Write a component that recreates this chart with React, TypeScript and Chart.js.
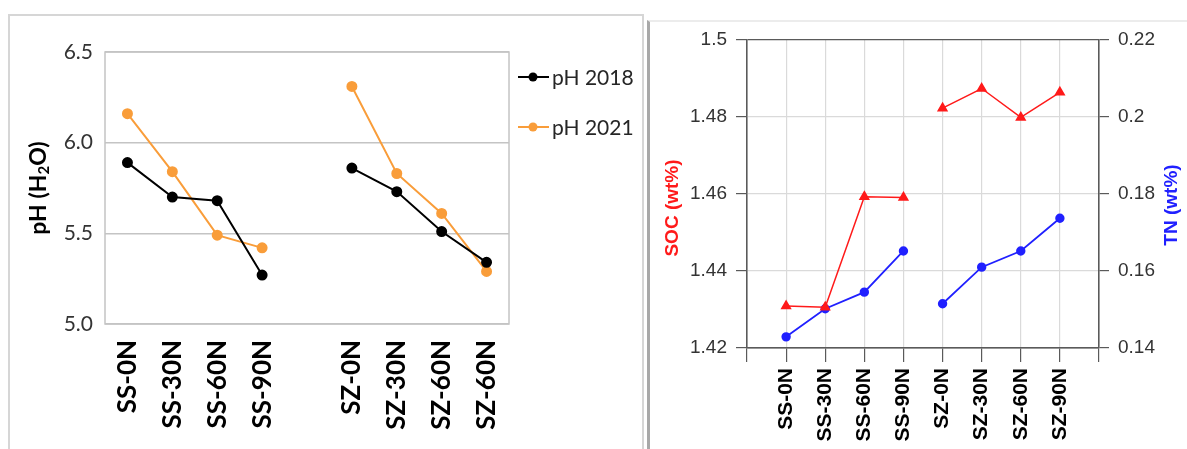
import React, { useEffect, useRef } from 'react';
import { Chart, registerables } from 'chart.js';

Chart.register(...registerables);

// ---------- Left chart data (pH) ----------
const phCategories = ['SS-0N', 'SS-30N', 'SS-60N', 'SS-90N', '', 'SZ-0N', 'SZ-30N', 'SZ-60N', 'SZ-60N'];
const ph2018 = [5.89, 5.70, 5.68, 5.27, null, 5.86, 5.73, 5.51, 5.34];
const ph2021 = [6.16, 5.84, 5.49, 5.42, null, 6.31, 5.83, 5.61, 5.29];
const phTicks = [5.0, 5.5, 6.0, 6.5];
const phSeriesNames = ['pH 2018', 'pH 2021'];

// ---------- Right chart data (SOC / TN) ----------
const socCategories = ['SS-0N', 'SS-30N', 'SS-60N', 'SS-90N', 'SZ-0N', 'SZ-30N', 'SZ-60N', 'SZ-90N'];
const socValues = [1.4309, 1.4306, 1.4593, 1.4591, 1.4823, 1.4874, 1.4799, 1.4864];
const tnValues = [0.1429, 0.1502, 0.1545, 0.1652, 0.1515, 0.161, 0.1652, 0.1737];
const socTicks = [1.42, 1.44, 1.46, 1.48, 1.5];
const tnTicks = [0.14, 0.16, 0.18, 0.2, 0.22];

const BLACK = '#000000';
const ORANGE = '#F99D3A';
const RED = '#FF1A1A';
const BLUE = '#2020FF';
const GRID_L = '#C4C4C4';
const DARK = '#5A5A5A';
const LIGHT = '#DADADA';

const LATO = 'Lato, "Open Sans", sans-serif';
const ARIAL = '"Liberation Sans", Arial, sans-serif';

function LeftChart() {
  const ref = useRef<HTMLCanvasElement | null>(null);
  useEffect(() => {
    if (!ref.current) return;
    const framePlugin = {
      id: 'frame',
      beforeDatasetsDraw(chart: any) {
        const { ctx, chartArea: a } = chart;
        ctx.save();
        ctx.strokeStyle = GRID_L;
        ctx.lineWidth = 1.5;
        ctx.strokeRect(a.left, a.top, a.right - a.left, a.bottom - a.top);
        ctx.restore();
      },
    };
    const titlePlugin = {
      id: 'phTitle',
      afterDraw(chart: any) {
        const { ctx, chartArea: a } = chart;
        const big = `bold 23px ${LATO}`;
        const small = `bold 15px ${LATO}`;
        const parts: [string, string, number][] = [
          ['pH (H', big, 0],
          ['2', small, 5],
          ['O)', big, 0],
        ];
        ctx.save();
        let total = 0;
        parts.forEach(([t, f]) => {
          ctx.font = f;
          total += ctx.measureText(t).width;
        });
        ctx.translate(38, (a.top + a.bottom) / 2);
        ctx.rotate(-Math.PI / 2);
        ctx.fillStyle = '#000';
        ctx.textAlign = 'left';
        ctx.textBaseline = 'middle';
        let x = -total / 2;
        parts.forEach(([t, f, dy]) => {
          ctx.font = f;
          ctx.fillText(t, x, dy + 1);
          x += ctx.measureText(t).width;
        });
        ctx.restore();
      },
    };
    const legendPlugin = {
      id: 'customLegend',
      afterDraw(chart: any) {
        const { ctx } = chart;
        const ys = [77, 127];
        chart.data.datasets.forEach((ds: any, i: number) => {
          const y = ys[i];
          ctx.save();
          ctx.strokeStyle = ds.borderColor;
          ctx.fillStyle = ds.borderColor;
          ctx.lineWidth = 2;
          ctx.beginPath();
          ctx.moveTo(518, y);
          ctx.lineTo(549, y);
          ctx.stroke();
          ctx.beginPath();
          ctx.arc(533, y, 4.5, 0, Math.PI * 2);
          ctx.fill();
          ctx.fillStyle = '#262626';
          ctx.font = `21px ${LATO}`;
          ctx.textAlign = 'left';
          ctx.textBaseline = 'middle';
          ctx.fillText(ds.label, 552, y + 1);
          ctx.restore();
        });
      },
    };
    const mk = (label: string, data: (number | null)[], color: string) => ({
      label,
      data,
      borderColor: color,
      backgroundColor: color,
      pointBackgroundColor: color,
      pointBorderColor: color,
      pointRadius: 4.5,
      pointHoverRadius: 4.5,
      borderWidth: 2,
      spanGaps: false,
      tension: 0,
    });
    const chart = new Chart(ref.current, {
      type: 'line',
      data: {
        labels: phCategories,
        datasets: [mk(phSeriesNames[0], ph2018, BLACK), mk(phSeriesNames[1], ph2021, ORANGE)],
      },
      options: {
        responsive: false,
        animation: false,
        layout: { padding: { left: 0, top: 52, right: 131, bottom: 0 } },
        plugins: { legend: { display: false }, tooltip: { enabled: false } },
        scales: {
          x: {
            type: 'category',
            offset: true,
            grid: { display: false, drawTicks: false },
            border: { display: false },
            ticks: {
              autoSkip: false,
              maxRotation: 90,
              minRotation: 90,
              padding: 16,
              color: '#000',
              font: { family: LATO, weight: 'bold', size: 26 },
            },
            afterFit: (s: any) => {
              s.height = 125;
            },
          },
          y: {
            min: 5,
            max: 6.5,
            afterBuildTicks: (s: any) => {
              s.ticks = phTicks.map((v) => ({ value: v }));
            },
            grid: { color: GRID_L, lineWidth: 1.5, drawTicks: false },
            border: { display: false },
            ticks: {
              padding: 12,
              color: '#333',
              font: { family: LATO, size: 21 },
              callback: (v: any) => Number(v).toFixed(1),
            },
            afterFit: (s: any) => {
              s.width = 105;
            },
          },
        },
      },
      plugins: [framePlugin, titlePlugin, legendPlugin],
    } as any);
    return () => chart.destroy();
  }, []);
  return <canvas ref={ref} width={640} height={449} style={{ position: 'absolute', left: 0, top: 0 }} />;
}

function RightChart() {
  const ref = useRef<HTMLCanvasElement | null>(null);
  useEffect(() => {
    if (!ref.current) return;
    const groupBreak = socCategories.findIndex((c) => c.startsWith('SZ')) - 1;
    const titlesPlugin = {
      id: 'titles',
      afterDraw(chart: any) {
        const { ctx } = chart;
        const draw = (text: string, x: number, y: number, color: string) => {
          ctx.save();
          ctx.translate(x, y);
          ctx.rotate(-Math.PI / 2);
          ctx.font = `bold 19px ${ARIAL}`;
          ctx.fillStyle = color;
          ctx.textAlign = 'center';
          ctx.textBaseline = 'middle';
          ctx.fillText(text, 0, 0);
          ctx.restore();
        };
        draw('SOC (wt%)', 23, 208, RED);
        draw('TN (wt%)', 522, 205, BLUE);
      },
    };
    const isEdge = (v: number, lo: number, hi: number) => Math.abs(v - lo) < 1e-6 || Math.abs(v - hi) < 1e-6;
    const xMax = socCategories.length + 1;
    const chart = new Chart(ref.current, {
      type: 'line',
      data: {
        datasets: [
          {
            label: 'SOC',
            data: socValues.map((v, i) => ({ x: i + 1, y: v })),
            yAxisID: 'y',
            borderColor: RED,
            backgroundColor: RED,
            pointStyle: 'triangle',
            pointRadius: 5,
            pointHoverRadius: 5,
            borderWidth: 1.5,
            segment: {
              borderColor: (c: any) => (c.p0DataIndex === groupBreak ? 'rgba(0,0,0,0)' : RED),
            },
          },
          {
            label: 'TN',
            data: tnValues.map((v, i) => ({ x: i + 1, y: v })),
            yAxisID: 'y1',
            borderColor: BLUE,
            backgroundColor: BLUE,
            pointStyle: 'circle',
            pointRadius: 3.8,
            pointHoverRadius: 3.8,
            borderWidth: 1.8,
            segment: {
              borderColor: (c: any) => (c.p0DataIndex === groupBreak ? 'rgba(0,0,0,0)' : BLUE),
            },
          },
        ],
      },
      options: {
        responsive: false,
        animation: false,
        layout: { padding: { left: 0, top: 40, right: 0, bottom: 0 } },
        plugins: { legend: { display: false }, tooltip: { enabled: false } },
        scales: {
          x: {
            type: 'linear',
            min: 0,
            max: xMax,
            afterBuildTicks: (s: any) => {
              s.ticks = [0, ...socCategories.map((_, i) => i + 1), xMax].map((v) => ({ value: v }));
            },
            ticks: {
              autoSkip: false,
              maxRotation: 90,
              minRotation: 90,
              padding: 6,
              color: '#000',
              font: { family: ARIAL, weight: 'bold', size: 21 },
              callback: (v: any) => socCategories[Number(v) - 1] ?? '',
            },
            grid: {
              color: (c: any) => (isEdge(c.tick.value, 0, xMax) ? DARK : LIGHT),
              tickColor: DARK,
              tickLength: 14,
              lineWidth: 1.2,
            },
            border: { color: DARK, width: 1.5 },
            afterFit: (s: any) => {
              s.height = 101;
            },
          },
          y: {
            position: 'left',
            min: 1.42,
            max: 1.5,
            afterBuildTicks: (s: any) => {
              s.ticks = socTicks.map((v) => ({ value: v }));
            },
            ticks: {
              padding: 9,
              color: '#333',
              font: { family: ARIAL, size: 19 },
              callback: (v: any) => String(Number(Number(v).toFixed(2))),
            },
            grid: {
              color: (c: any) => (isEdge(c.tick.value, 1.42, 1.5) ? DARK : LIGHT),
              tickColor: DARK,
              tickLength: 11,
              lineWidth: 1.2,
            },
            border: { color: DARK, width: 1.5 },
            afterFit: (s: any) => {
              s.width = 97;
            },
          },
          y1: {
            position: 'right',
            min: 0.14,
            max: 0.22,
            afterBuildTicks: (s: any) => {
              s.ticks = tnTicks.map((v) => ({ value: v }));
            },
            ticks: {
              padding: 9,
              color: '#333',
              font: { family: ARIAL, size: 19 },
              callback: (v: any) => String(Number(Number(v).toFixed(2))),
            },
            grid: { drawOnChartArea: false, tickColor: DARK, tickLength: 10, lineWidth: 1.2 },
            border: { color: DARK, width: 1.5 },
            afterFit: (s: any) => {
              s.width = 88;
            },
          },
        },
      },
      plugins: [titlesPlugin],
    } as any);
    return () => chart.destroy();
  }, []);
  return <canvas ref={ref} width={537} height={449} style={{ position: 'absolute', left: 650, top: 0 }} />;
}

export default function App() {
  return (
    <div style={{ position: 'absolute', left: 0, top: 0, width: 1187, height: 449, overflow: 'hidden', background: '#fff' }}>
      <div
        style={{
          position: 'absolute',
          left: 8,
          top: 14,
          width: 636,
          height: 470,
          border: '2px solid #D6D6D6',
          boxSizing: 'border-box',
        }}
      />
      <div
        style={{
          position: 'absolute',
          left: 647,
          top: 20,
          width: 560,
          height: 470,
          borderLeft: '3px solid #A8A8A8',
          borderTop: '2px solid #ECECEC',
          boxSizing: 'border-box',
        }}
      />
      <LeftChart />
      <RightChart />
    </div>
  );
}
